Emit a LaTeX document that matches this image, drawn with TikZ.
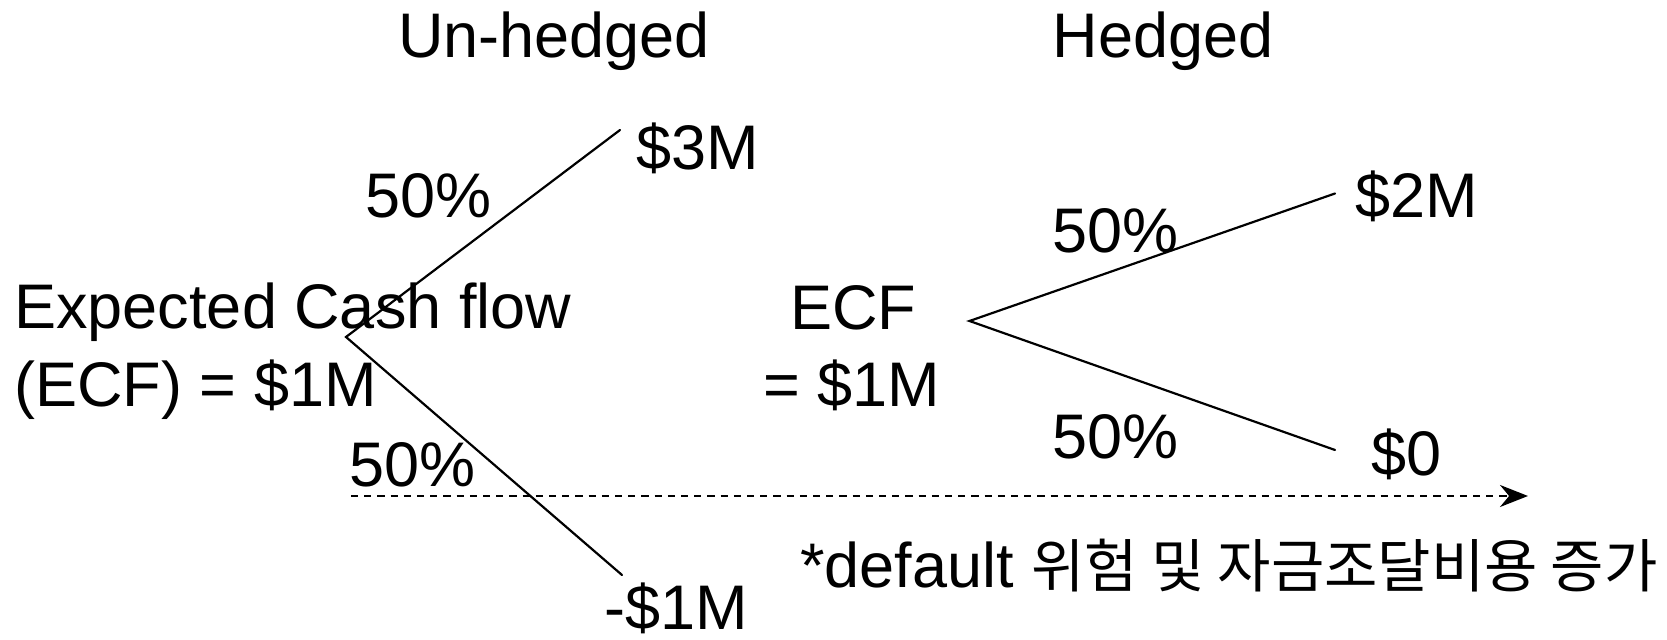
\documentclass[tikz,border=0pt]{standalone}
\usepackage{fontspec}
\setmainfont{Liberation Sans}
\newfontfamily\cjk{Noto Sans CJK KR}
\usetikzlibrary{arrows.meta}
\tikzset{
  lbl/.style={inner sep=0pt, anchor=base, font=\fontsize{31.5}{38.5}\selectfont},
  lblw/.style={lbl, anchor=base west},
  branch/.style={line width=1.1pt, line cap=round},
  dasharrow/.style={line width=1.2pt, dash pattern=on 3.6pt off 3pt, -{Stealth[length=14pt,width=11pt]}}
}
\begin{document}
\begin{tikzpicture}[x=0.5pt,y=-0.5pt]
\useasboundingbox (0,0) rectangle (1667,640);
% headings
\node[lbl] (unh) at (554,58) {Un-hedged};
\node[lbl] (hed) at (1163,58) {Hedged};
% left tree
\node[lblw] (ecfA) at (14,329) {Expected Cash flow};
\node[lblw] (ecfB) at (14,407) {(ECF) = \$1M};
\node[lblw] (p3) at (636,170) {\$3M};
\node[lblw] (m1) at (604,630) {-\$1M};
\node[lblw] (pl1) at (365,218) {50\%};
\node[lblw] (pl2) at (349,487) {50\%};
\coordinate (v1) at (346,337);
\coordinate (v1a) at (620,130);
\coordinate (v1b) at (622,575);
\draw[branch] (v1a) -- (v1) -- (v1b);
% right tree
\node[lbl] (ecfC) at (853,330) {ECF};
\node[lbl] (ecfD) at (852,407) {= \$1M};
\node[lblw] (p2) at (1355,218) {\$2M};
\node[lblw] (p0) at (1371,476) {\$0};
\node[lblw] (pr1) at (1052,253) {50\%};
\node[lblw] (pr2) at (1052,459) {50\%};
\coordinate (v2) at (969.5,321);
\coordinate (v2a) at (1335,193.5);
\coordinate (v2b) at (1335,450);
\draw[branch] (v2a) -- (v2) -- (v2b);
% dashed arrow
\coordinate (das) at (351,496);
\coordinate (dae) at (1528,496);
\draw[dasharrow] (das) -- (dae);
\node[lblw] (note) at (800,588) {*default {\cjk\fontsize{29}{32}\selectfont 위험 및 자금조달비용 증가}};
\end{tikzpicture}
\end{document}
